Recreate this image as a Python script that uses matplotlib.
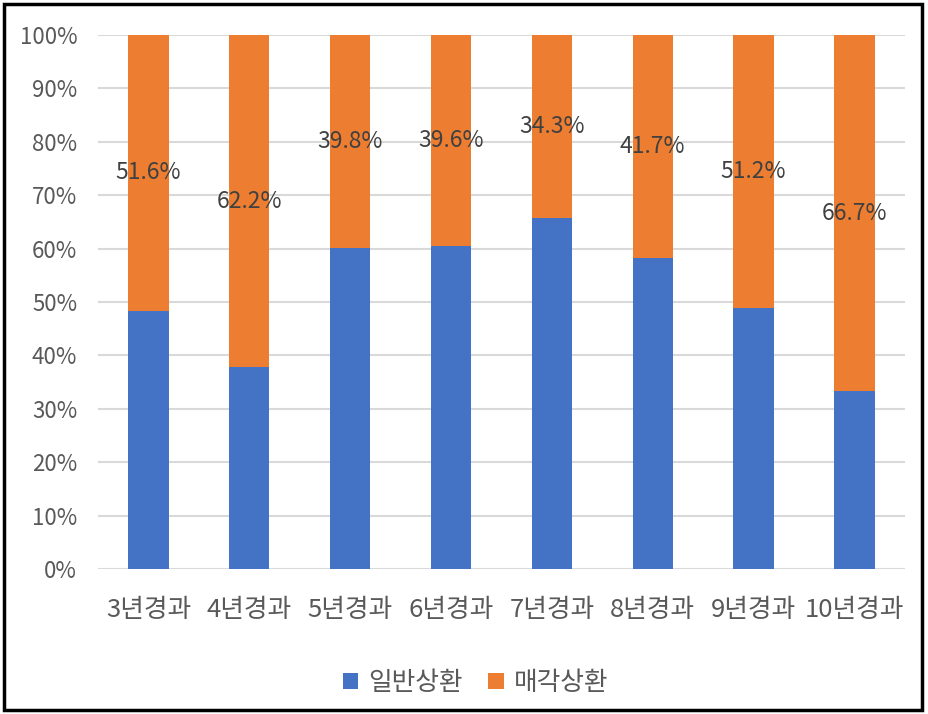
import matplotlib
matplotlib.use('Agg')
import matplotlib.pyplot as plt
import numpy as np
from matplotlib.patches import Rectangle

plt.rcParams['font.family'] = ['Noto Sans CJK KR', 'DejaVu Sans']

#============================================================================#
categories = ['3년경과', '4년경과', '5년경과', '6년경과', '7년경과', '8년경과', '9년경과', '10년경과']
sale_share = [51.6, 62.2, 39.8, 39.6, 34.3, 41.7, 51.2, 66.7]   # 매각상환
normal_share = [100 - v for v in sale_share]                     # 일반상환
series_names = ['일반상환', '매각상환']
#============================================================================#

BLUE = '#4472C4'
ORANGE = '#ED7D31'

fig = plt.figure(figsize=(9.29, 7.14), dpi=100)
ax = fig.add_axes([0.1055, 0.203, 0.8685, 0.748])

x = np.arange(len(categories))
ax.bar(x, normal_share, width=0.4, color=BLUE, label=series_names[0], zorder=3)
ax.bar(x, sale_share, width=0.4, bottom=normal_share, color=ORANGE,
       label=series_names[1], zorder=3)

for i in range(len(categories)):
    ax.text(x[i], normal_share[i] + sale_share[i] / 2, '{}%'.format(sale_share[i]),
            ha='center', va='center', fontsize=16.5, color='#404040', zorder=4)

ax.set_xlim(-0.5, len(categories) - 0.5)
ax.set_ylim(0, 100)
ax.set_yticks(np.arange(0, 101, 10))
ax.set_yticklabels(['{}%'.format(v) for v in range(0, 101, 10)])
ax.set_xticks(x)
ax.set_xticklabels(categories)
ax.tick_params(axis='both', length=0, labelcolor='#595959')
ax.tick_params(axis='y', labelsize=16, pad=15)
ax.tick_params(axis='x', labelsize=18.5, pad=20)
ax.yaxis.grid(True, color='#D9D9D9', linewidth=1.5, zorder=0)
for s in ax.spines.values():
    s.set_visible(False)

leg = fig.legend(loc='center', bbox_to_anchor=(0.512, 0.043), ncol=2, frameon=False,
                 fontsize=18.5, handlelength=0.6, handleheight=0.6, handletextpad=0.4,
                 columnspacing=1.0)
for t in leg.get_texts():
    t.set_color('#595959')

# border around the whole chart
fig.patches.append(Rectangle((0.004, 0.005), 0.989, 0.99, transform=fig.transFigure,
                             fill=False, edgecolor='black', linewidth=2.5))

plt.savefig('out.png', dpi=100)
plt.close()
